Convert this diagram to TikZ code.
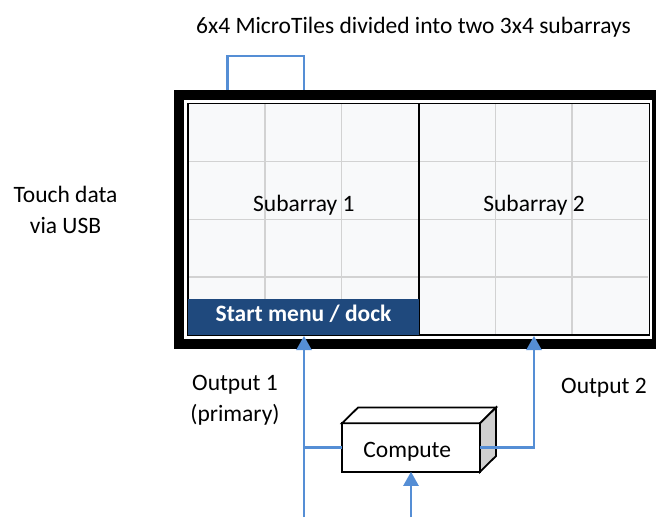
\documentclass[tikz,border=0pt]{standalone}
\usepackage{fontspec}
\setmainfont{Carlito}
\usetikzlibrary{arrows.meta}
\definecolor{linkblue}{HTML}{558ED5}
\definecolor{menublue}{HTML}{1F497D}
\definecolor{gridgray}{HTML}{D2D2D2}
\definecolor{tilebg}{HTML}{F8F9FA}
\definecolor{sidegray}{HTML}{D0D0D0}
\begin{document}
\begin{tikzpicture}[x=1pt,y=-1pt,
  lbl/.style={font=\fontsize{23.5}{31}\selectfont, inner sep=0pt, anchor=base},
  subbox/.style={draw=black, line width=1.6pt, fill=tilebg, inner sep=0pt, outer sep=0pt,
                 minimum width=231pt, minimum height=231.5pt},
  menubar/.style={fill=menublue, inner sep=0pt, outer sep=0pt,
                 minimum width=231.5pt, minimum height=36pt},
  framebox/.style={draw=black, line width=10pt, inner sep=0pt, outer sep=0pt,
                 minimum width=478pt, minimum height=249pt},
  computebox/.style={draw=black, line width=1.8pt, fill=white, inner sep=0pt, outer sep=0pt,
                 minimum width=138pt, minimum height=48.5pt},
  link/.style={draw=linkblue, line width=2.2pt},
  arr/.style={link, -{Triangle[length=14pt,width=15pt]}},
  gridline/.style={draw=gridgray, line width=1.6pt}
]
\useasboundingbox (0,0) rectangle (656,517);

% USB cable loop (behind the frame)
\coordinate (usbL) at (227.5,95);
\coordinate (usbR) at (304,95);
\draw[link] (usbL) -- ++(0,-39) -| (usbR);

% subarrays
\node[subbox] (sub1) at (303.5,219.25) {};
\node[subbox] (sub2) at (534,219.25) {};

% grid lines
\foreach \xx in {264.8,341.6,495.4,572.2}
  \draw[gridline] (\xx,104.3) -- (\xx,334.2);
\foreach \yy in {161.4,219.3,277.2}
  \draw[gridline] (188.8,\yy) -- (418.2,\yy) (419.8,\yy) -- (648.2,\yy);

% redraw subarray outlines on top of grid
\draw[line width=1.6pt] (sub1.north west) rectangle (sub1.south east);
\draw[line width=1.6pt] (sub2.north west) rectangle (sub2.south east);

% start menu
\node[menubar] (menu) at (303.5,317) {};
\node[lbl, text=white, font=\fontsize{23.5}{31}\selectfont\bfseries] (menutxt) at (303.5,321.7) {Start menu / dock};

% outer display frame
\node[framebox] (frame) at (418,219.5) {};

% labels
\node[lbl] (sub1lbl) at (303.8,211.7) {Subarray 1};
\node[lbl] (sub2lbl) at (534,211.7) {Subarray 2};
\node[lbl] (title) at (413.5,33.3) {6x4 MicroTiles divided into two 3x4 subarrays};
\node[lbl, align=center] (touch) at (65.5,233) {Touch data\\via USB};
\node[lbl, align=center] (out1) at (235,421.7) {Output 1\\(primary)};
\node[lbl] (out2) at (604,393.3) {Output 2};

% compute box (3D)
\node[computebox] (comp) at (411,447.5) {};
\fill[white, draw=black, line width=1.8pt, line join=miter]
  (comp.north west) -- ++(16,-15.7) -- ++(138,0) -- (comp.north east) -- cycle;
\fill[sidegray, draw=black, line width=1.8pt, line join=miter]
  (comp.north east) -- ++(16,-15.7) -- ++(0,48.5) -- (comp.south east) -- cycle;
\node[lbl] (comptxt) at (407.2,457.3) {Compute};

% connectors
\coordinate (o1bot) at (304,517);
\coordinate (o1top) at (304,336);
\coordinate (o2top) at (534,336);
\coordinate (cbot) at (411,517);
\draw[arr] (o1bot) -- (o1top);
\draw[link] (o1bot |- comp.west) -- (comp.west);
\draw[arr] (comp.east) -| (o2top);
\draw[arr] (cbot) -- (comp.south);
\end{tikzpicture}
\end{document}
